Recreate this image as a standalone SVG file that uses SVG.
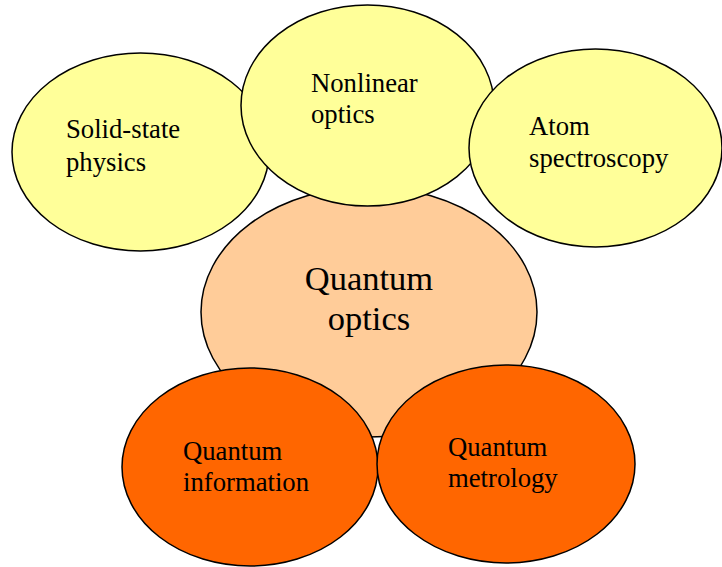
<svg xmlns="http://www.w3.org/2000/svg" width="722" height="567" viewBox="0 0 722 567" font-family="'Liberation Serif', 'Times New Roman', Times, serif">
<style>
.n ellipse{stroke:#000;stroke-width:1.5}
.y{fill:#FFFF99}
.p{fill:#FFCC99}
.o{fill:#FF6600}
text{font-family:'Liberation Serif','Times New Roman',Times,serif;font-size:26.7px;fill:#000}
.big{font-size:34.5px}
</style>
<rect width="722" height="567" fill="#fff"/>
<g id="connectors"></g>
<g id="quantum-optics" class="n">
<ellipse class="p" cx="369" cy="312" rx="168" ry="125"/>
<text class="big" x="369" y="290" text-anchor="middle">Quantum</text>
<text class="big" x="369" y="330" text-anchor="middle">optics</text>
</g>
<g id="solid-state" class="n">
<ellipse class="y" cx="140.5" cy="152" rx="128.5" ry="99"/>
<text x="66" y="138">Solid-state</text>
<text x="66" y="171">physics</text>
</g>
<g id="nonlinear" class="n">
<ellipse class="y" cx="367.5" cy="105.5" rx="126.5" ry="100.5"/>
<text x="311" y="92">Nonlinear</text>
<text x="311" y="123">optics</text>
</g>
<g id="atom" class="n">
<ellipse class="y" cx="595.5" cy="148" rx="126.5" ry="99"/>
<text x="529" y="135">Atom</text>
<text x="529" y="167">spectroscopy</text>
</g>
<g id="quantum-information" class="n">
<ellipse class="o" cx="250" cy="467" rx="128" ry="99"/>
<text x="183" y="460">Quantum</text>
<text x="183" y="491">information</text>
</g>
<g id="quantum-metrology" class="n">
<ellipse class="o" cx="506" cy="464" rx="129" ry="99"/>
<text x="448" y="456">Quantum</text>
<text x="448" y="487">metrology</text>
</g>
</svg>
